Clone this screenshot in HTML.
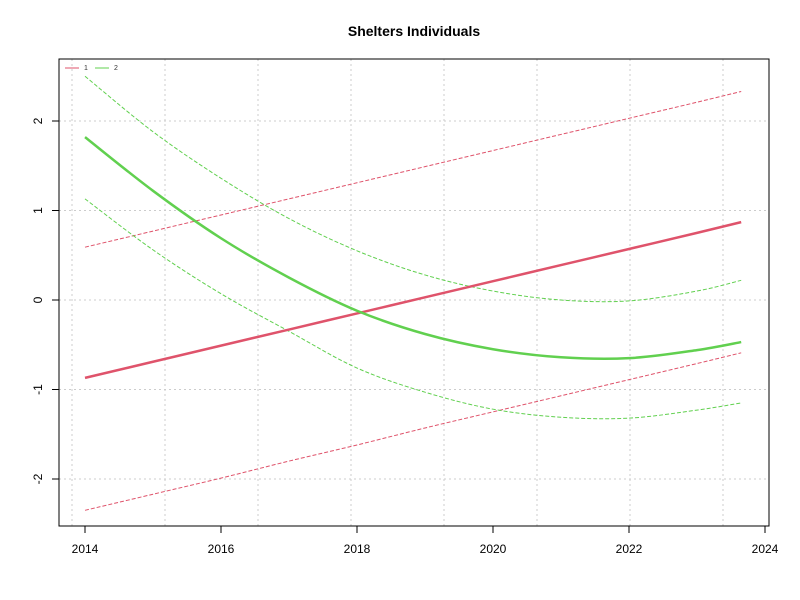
<!DOCTYPE html>
<html><head><meta charset="utf-8"><style>body{margin:0;background:#fff}svg{display:block;font-family:"Liberation Sans",Arial,sans-serif}</style></head>
<body>
<svg id="c" width="800" height="600"></svg>
<script>
const years=[2014,2015,2016,2017,2018,2019,2020,2021,2022,2023,2023.65];
const redFit=[-0.87,-0.69,-0.51,-0.33,-0.15,0.03,0.21,0.39,0.57,0.75,0.87];
const redUpper=[0.59,0.77,0.95,1.13,1.31,1.49,1.67,1.85,2.03,2.21,2.33];
const redLower=[-2.35,-2.17,-1.99,-1.80,-1.62,-1.43,-1.25,-1.07,-0.89,-0.71,-0.59];
const greenFit=[1.82,1.22,0.69,0.25,-0.12,-0.38,-0.55,-0.64,-0.65,-0.56,-0.47];
const greenUpper=[2.5,1.88,1.36,0.91,0.55,0.28,0.1,0.0,-0.01,0.1,0.22];
const greenLower=[1.13,0.56,0.07,-0.35,-0.76,-1.03,-1.22,-1.31,-1.32,-1.23,-1.15];
const xTicks=[2014,2016,2018,2020,2022,2024];
const yTicks=[-2,-1,0,1,2];
const NS='http://www.w3.org/2000/svg',svg=document.getElementById('c');
const X=v=>85+(v-2014)*68, Y=v=>300-v*89.5;
function el(t,a,p){const e=document.createElementNS(NS,t);for(const k in a)e.setAttribute(k,a[k]);(p||svg).appendChild(e);return e;}
for(let i=0;i<8;i++){const g=el('line',{x1:72+i*93,x2:72+i*93,y1:59,y2:526,stroke:'#ccc','stroke-dasharray':'2,3'});

}
yTicks.forEach(v=>{const g=el('line',{x1:59,x2:769,y1:Y(v),y2:Y(v),stroke:'#ccc','stroke-dasharray':'2,3'});

});
function smooth(pts){let d='M'+pts[0][0]+','+pts[0][1];
for(let i=0;i<pts.length-1;i++){const p0=pts[Math.max(0,i-1)],p1=pts[i],p2=pts[i+1],p3=pts[Math.min(pts.length-1,i+2)];
const c1=[p1[0]+(p2[0]-p0[0])/6,p1[1]+(p2[1]-p0[1])/6],c2=[p2[0]-(p3[0]-p1[0])/6,p2[1]-(p3[1]-p1[1])/6];
d+=` C${c1[0]},${c1[1]} ${c2[0]},${c2[1]} ${p2[0]},${p2[1]}`;}return d;}
function line(arr,col,w,dash,name){const p=el('path',{d:smooth(arr.map((v,i)=>[X(years[i]),Y(v)])),fill:'none',stroke:col,'stroke-width':w});
if(dash)p.setAttribute('stroke-dasharray',dash);

}
const R='#df536b',G='#61d04f';
line(redUpper,R,1,'4,2','red-upper-band');line(redLower,R,1,'4,2','red-lower-band');
line(greenUpper,G,1,'4,2','green-upper-band');line(greenLower,G,1,'4,2','green-lower-band');
line(redFit,R,2.5,null,'red-fit-line');line(greenFit,G,2.5,null,'green-fit-line');
const b=el('rect',{x:59,y:59,width:710,height:467,fill:'none',stroke:'#000'});


xTicks.forEach(v=>{el('line',{x1:X(v),x2:X(v),y1:526,y2:533,stroke:'#000'});
const t=el('text',{x:X(v),y:553,'text-anchor':'middle','font-size':12});t.textContent=v;

});
yTicks.forEach(v=>{el('line',{x1:52,x2:59,y1:Y(v),y2:Y(v),stroke:'#000'});
const t=el('text',{x:42,y:Y(v),'text-anchor':'middle','font-size':12,transform:`rotate(-90 42 ${Y(v)})`});t.textContent=v;

});
const ti=el('text',{x:414,y:36,'text-anchor':'middle','font-size':14,'font-weight':'bold'});ti.textContent='Shelters Individuals';


const lg=el('g',{});


el('line',{x1:65,x2:79,y1:68,y2:68,stroke:R},lg);
let t1=el('text',{x:84,y:70,'font-size':7,fill:'#333'},lg);t1.textContent='1';
el('line',{x1:95,x2:109,y1:68,y2:68,stroke:G},lg);
let t2=el('text',{x:114,y:70,'font-size':7,fill:'#333'},lg);t2.textContent='2';
</script>
</body></html>
